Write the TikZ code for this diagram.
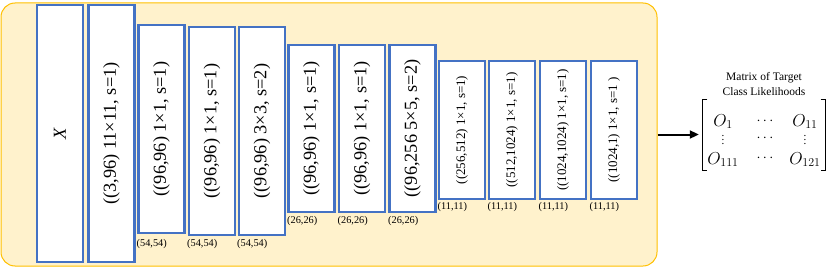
\documentclass[tikz,border=0pt]{standalone}
\usepackage{fontspec}
\setmainfont{Liberation Serif}
\usetikzlibrary{arrows.meta}
\definecolor{boxblue}{HTML}{4472C4}
\definecolor{bgfill}{HTML}{FFF2CC}
\definecolor{bgline}{HTML}{FFC000}
\newcommand\myvdots{\vbox{\baselineskip=4pt\lineskiplimit=0pt\hbox{.}\hbox{.}\hbox{.}}}
\begin{document}
\begin{tikzpicture}[x=1pt,y=-1pt,
  layer/.style={draw=boxblue, line width=2.4pt, fill=white, inner sep=0pt, minimum width=46pt},
  bigtxt/.style={font=\fontsize{18.3}{20}\selectfont},
  smalltxt/.style={font=\fontsize{13}{15}\selectfont},
  dimlabel/.style={font=\fontsize{10.3}{12}\selectfont, inner sep=0pt, anchor=west},
  ent/.style={font=\fontsize{17.5}{20}\selectfont, inner sep=0pt},
  dots/.style={font=\fontsize{14}{17}\selectfont, inner sep=0pt},
  vdotsnode/.style={font=\fontsize{11}{12}\selectfont, inner sep=0pt, anchor=south}]
\useasboundingbox (0,0) rectangle (830,270);
\node[draw=bgline, fill=bgfill, line width=1pt, rounded corners=14pt,
      minimum width=656pt, minimum height=263pt, inner sep=0pt] (bg) at (329,134.5) {};
% layers
\node[layer, bigtxt, minimum height=257pt] (b1) at (60,133.5) {\rotatebox{90}{\textit{X}}};
\node[layer, bigtxt, minimum height=257pt] (b2) at (111.5,133.5) {\rotatebox{90}{((3,96) 11×11, s=1)}};
\node[layer, bigtxt, minimum height=208pt] (b3) at (161.5,129) {\rotatebox{90}{((96,96) 1×1, s=1)}};
\node[layer, bigtxt, minimum height=208pt] (b4) at (212,131) {\rotatebox{90}{((96,96) 1×1, s=1)}};
\node[layer, bigtxt, minimum height=208pt] (b5) at (262,131) {\rotatebox{90}{((96,96) 3×3, s=2)}};
\node[layer, bigtxt, minimum height=167pt] (b6) at (311.5,128.5) {\rotatebox{90}{((96,96) 1×1, s=1)}};
\node[layer, bigtxt, minimum height=167pt] (b7) at (362,128.5) {\rotatebox{90}{((96,96) 1×1, s=1)}};
\node[layer, bigtxt, minimum height=167pt] (b8) at (412.5,128.5) {\rotatebox{90}{((96,256 5×5, s=2)}};
\node[layer, smalltxt, minimum height=138pt] (b9) at (462,130) {\rotatebox{90}{((256,512) 1×1, s=1)}};
\node[layer, smalltxt, minimum height=138pt] (b10) at (512,130) {\rotatebox{90}{((512,1024) 1×1, s=1)}};
\node[layer, smalltxt, minimum height=138pt] (b11) at (563,130) {\rotatebox{90}{((1024,1024) 1×1, s=1)}};
\node[layer, smalltxt, minimum height=138pt] (b12) at (614,130) {\rotatebox{90}{((1024,1) 1×1, s=1 )}};
% size labels
\node[dimlabel] (l3) at (136.5,244) {(54,54)};
\node[dimlabel] (l4) at (187,244) {(54,54)};
\node[dimlabel] (l5) at (237,244) {(54,54)};
\node[dimlabel] (l6) at (287,220.7) {(26,26)};
\node[dimlabel] (l7) at (337.5,220.7) {(26,26)};
\node[dimlabel] (l8) at (388,220.7) {(26,26)};
\node[dimlabel] (l9) at (437.5,206.7) {(11,11)};
\node[dimlabel] (l10) at (487.5,206.7) {(11,11)};
\node[dimlabel] (l11) at (538.5,206.7) {(11,11)};
\node[dimlabel] (l12) at (589.5,206.7) {(11,11)};
% output matrix
\node[font=\fontsize{11.5}{15.5}\selectfont, align=center, inner sep=0pt] (title) at (764,84) {Matrix of Target\\Class Likelihoods};
\node[minimum width=122pt, minimum height=70pt, inner sep=0pt] (mat) at (764,135) {};
\draw[line width=1.2pt] ([xshift=4.5pt]mat.north west) -- (mat.north west) -- (mat.south west) -- ([xshift=4.5pt]mat.south west);
\draw[line width=1.2pt] ([xshift=-4.5pt]mat.north east) -- (mat.north east) -- (mat.south east) -- ([xshift=-4.5pt]mat.south east);
\node[ent, anchor=base] (m11) at (723,126) {$O_{1}$};
\node[dots] (m12) at (765,121) {$\cdots$};
\node[ent, anchor=base] (m13) at (805,126) {$O_{11}$};
\node[vdotsnode] (m21) at (723,145) {\myvdots};
\node[dots] (m22) at (765,138) {$\cdots$};
\node[vdotsnode] (m23) at (805,145) {\myvdots};
\node[ent, anchor=base] (m31) at (723,164) {$O_{111}$};
\node[dots] (m32) at (765,158) {$\cdots$};
\node[ent, anchor=base] (m33) at (805,164) {$O_{121}$};
\draw[line width=2pt, -{Triangle[length=9pt,width=8pt]}, shorten >=4pt] (bg.east) -- (bg.east -| mat.west);
\end{tikzpicture}
\end{document}
